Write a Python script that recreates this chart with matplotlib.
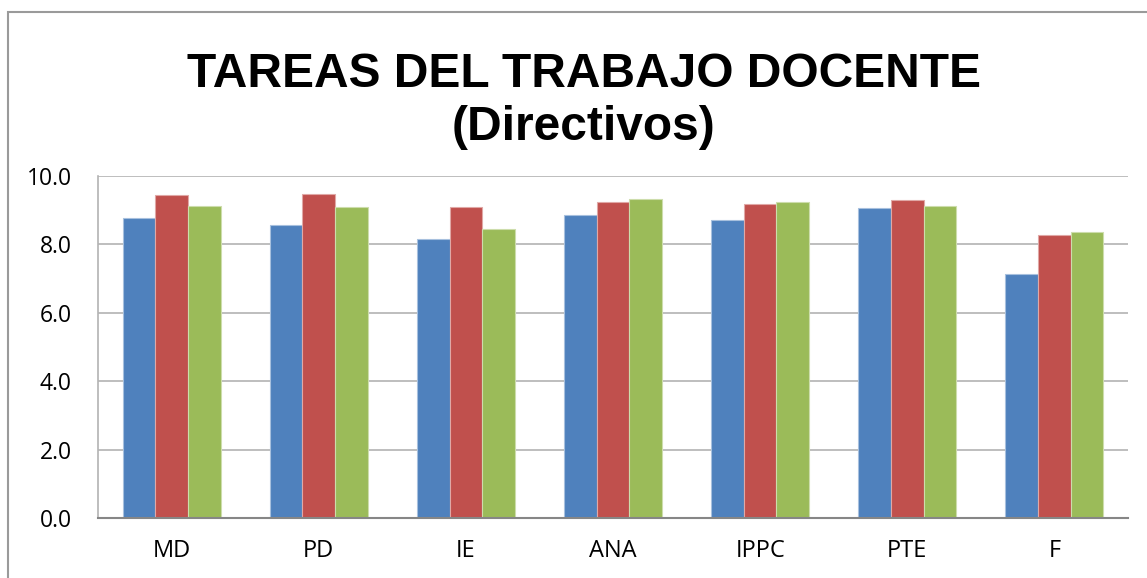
import numpy as np
import matplotlib.pyplot as plt
from matplotlib.patches import Rectangle

# puntajes promedio por tarea (directivos)
categorias = ["MD", "PD", "IE", "ANA", "IPPC", "PTE", "F"]
serie1 = [8.78, 8.57, 8.15, 8.86, 8.71, 9.07, 7.14]
serie2 = [9.44, 9.47, 9.10, 9.24, 9.18, 9.30, 8.27]
serie3 = [9.12, 9.10, 8.45, 9.32, 9.24, 9.13, 8.36]
yticks = [0.0, 2.0, 4.0, 6.0, 8.0, 10.0]

colores = ["#4F81BD", "#C0504D", "#9BBB59"]
bordes = ["#A7C0DE", "#E0A8A6", "#CDDDAC"]

fig = plt.figure(figsize=(11.47, 5.78), dpi=100)
ax = fig.add_axes([98 / 1147, 1 - 518 / 578, 1030 / 1147, 342 / 578])

x = np.arange(len(categorias))
w = 1 / 4.5
for i, vals in enumerate([serie1, serie2, serie3]):
    ax.bar(x + (i - 1) * w, vals, width=w, color=colores[i],
           edgecolor=bordes[i], linewidth=0.8, zorder=3)

ax.set_xlim(-0.5, len(categorias) - 0.5)
ax.set_ylim(0, 10)
ax.set_yticks(yticks)
ax.set_yticklabels([f"{v:.1f}" for v in yticks], fontfamily="Open Sans", fontsize=16.5)
ax.set_xticks(x)
ax.set_xticklabels(categorias, fontfamily="Open Sans", fontsize=17)
ax.tick_params(axis="y", length=0, pad=19)
ax.tick_params(axis="x", length=0, pad=15)
ax.yaxis.grid(True, color="#B3B3B3", linewidth=1.2, zorder=0)
ax.set_axisbelow(True)

for s in ["top", "right"]:
    ax.spines[s].set_visible(False)
ax.spines["left"].set_color("#B3B3B3")
ax.spines["left"].set_linewidth(1.2)
ax.spines["bottom"].set_color("#868686")
ax.spines["bottom"].set_linewidth(1.5)
ax.spines["bottom"].set_zorder(4)

fig.text(0.509, 1 - 140 / 578, "TAREAS DEL TRABAJO DOCENTE\n(Directivos)",
         ha="center", va="baseline", fontsize=34.5, fontweight="bold",
         fontfamily="Liberation Sans", linespacing=1.22, multialignment="center")

# marco exterior del gráfico
fig.patches.append(Rectangle((8 / 1147, -0.1), 1.2, (578 - 12.5) / 578 + 0.1,
                             transform=fig.transFigure, fill=False,
                             edgecolor="#9A9A9A", linewidth=1.5))

fig.savefig("out.png", dpi=100)
